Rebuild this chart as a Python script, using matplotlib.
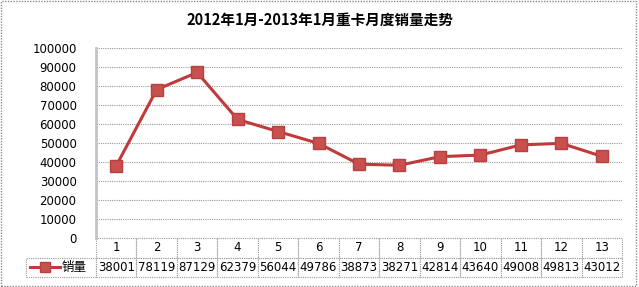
import numpy as np
import matplotlib.pyplot as plt
from matplotlib.lines import Line2D
from matplotlib.patches import Rectangle

plt.rcParams['font.family'] = ['Noto Sans CJK SC', 'DejaVu Sans']

"""
Data
"""
months = ['1', '2', '3', '4', '5', '6', '7', '8', '9', '10', '11', '12', '13']
sales = [38001, 78119, 87129, 62379, 56044, 49786, 38873, 38271, 42814, 43640, 49008, 49813, 43012]
series_name = '销量'
title = '2012年1月-2013年1月重卡月度销量走势'
yticks = list(range(0, 100001, 10000))

line_col = '#C0393B'
grid_col = '#9A9A9A'

"""
Figure
"""
W, H = 639, 287
fig = plt.figure(figsize=(W / 100, H / 100), dpi=100)

#Dotted outer frame
fig.patches.append(Rectangle((0.002, 0.004), 0.994, 0.992, transform=fig.transFigure,
                             fill=False, ec='#8C8C8C', lw=1, ls=(0, (1, 1))))

#Plot area in pixels
x0, x1, ytop, ybot = 96, 622, 48, 238
ax = fig.add_axes([x0 / W, 1 - ybot / H, (x1 - x0) / W, (ybot - ytop) / H])

x = np.arange(1, len(months) + 1)
ax.plot(x, sales, color=line_col, lw=2.2, marker='s', markersize=8,
        markerfacecolor='#C8504E', markeredgecolor='#B8403E', zorder=3)

ax.set_xlim(0.5, len(months) + 0.5)
ax.set_ylim(0, 100000)
ax.set_yticks(yticks)
ax.set_yticklabels([str(v) for v in yticks], fontsize=8.5, family='DejaVu Sans')
ax.tick_params(axis='y', length=0, pad=14)
ax.set_xticks([])
ax.grid(axis='y', color=grid_col, lw=0.8, ls=(0, (1, 1)))
ax.set_axisbelow(True)
for side in ['top', 'right', 'bottom']:
    ax.spines[side].set_visible(False)
ax.spines['left'].set_color('#C4C4C4')
ax.spines['left'].set_linewidth(2)

fig.text(0.5, 1 - 20 / H, title, ha='center', va='center', fontsize=10.5, fontweight='bold')

"""
Data table under the axis
"""
label_w = 70
col_w = (x1 - x0) / len(months)
tab_h = 39
ax_w = x1 - x0
ax_h = ybot - ytop
widths = [label_w / (ax_w + label_w)] + [col_w / (ax_w + label_w)] * len(months)
cell_text = [[''] + months, [series_name] + [str(v) for v in sales]]
tab = ax.table(cellText=cell_text, colWidths=widths, cellLoc='center',
               bbox=[-label_w / ax_w, -tab_h / ax_h, (ax_w + label_w) / ax_w, tab_h / ax_h])
tab.auto_set_font_size(False)
for (r, c), cell in tab.get_celld().items():
    cell.set_edgecolor(grid_col)
    cell.set_linewidth(0.8)
    cell.set_linestyle((0, (1, 1)))
    cell.get_text().set_fontsize(8.5)
    cell.get_text().set_family('DejaVu Sans')
    if r == 0 and c == 0:
        cell.visible_edges = ''
    if r == 1 and c == 0:
        cell.get_text().set_family(['Noto Sans CJK SC', 'DejaVu Sans'])
        cell.get_text().set_fontsize(9)
        cell._loc = 'right'
        cell.PAD = 0.14
        cell.get_text().set_horizontalalignment('right')

#Legend key in label cell
ly = 1 - 267 / H
fig.add_artist(Line2D([30 / W, 60 / W], [ly, ly], color=line_col, lw=2.2,
                      transform=fig.transFigure))
fig.add_artist(Line2D([45 / W], [ly], marker='s', markersize=7, color='#C8504E',
                      markeredgecolor='#B8403E', transform=fig.transFigure))

plt.savefig('out.png', dpi=100)
